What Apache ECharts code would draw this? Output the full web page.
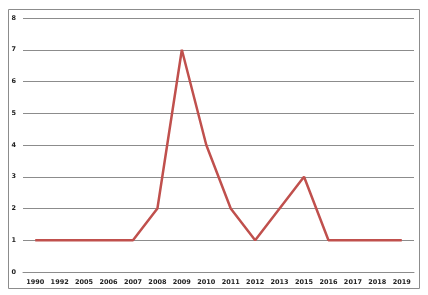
<!DOCTYPE html>
<html><head><meta charset="utf-8">
<script src="https://cdn.jsdelivr.net/npm/echarts@6/dist/echarts.min.js"></script>
<style>html,body{margin:0;padding:0;background:#fff;}#c{width:428px;height:295px;}</style>
</head><body><div id="c"></div>
<script>
const categories = ['1990','1992','2005','2006','2007','2008','2009','2010','2011','2012','2013','2015','2016','2017','2018','2019'];
const values = [1,1,1,1,1,2,7,4,2,1,2,3,1,1,1,1];
const yTicks = [0,1,2,3,4,5,6,7,8];

const chart = echarts.init(document.getElementById('c'));
chart.setOption({
  animation: false,
  backgroundColor: '#fff',
  graphic: [{
    type: 'rect', shape: {x: 8.5, y: 9.5, width: 411, height: 279},
    style: {fill: 'none', stroke: '#8c8c8c', lineWidth: 1}, silent: true
  }],
  grid: {left: 23, right: 14, top: 18, bottom: 23},
  xAxis: {
    type: 'category', data: categories, boundaryGap: true,
    axisLine: {show: true, lineStyle: {color: '#8c8c8c', width: 1}},
    axisTick: {show: false},
    axisLabel: {fontSize: 6.5, fontWeight: 'bold', color: '#222', margin: 7, interval: 0, fontFamily: 'DejaVu Sans'}
  },
  yAxis: {
    type: 'value', min: yTicks[0], max: yTicks[yTicks.length-1], interval: 1,
    axisLine: {show: false}, axisTick: {show: false},
    splitLine: {lineStyle: {color: '#8c8c8c', width: 1}},
    axisLabel: {fontSize: 6.5, fontWeight: 'bold', color: '#222', margin: 7, fontFamily: 'DejaVu Sans'}
  },
  series: [{
    type: 'line', data: values, symbol: 'none',
    lineStyle: {color: '#c0504d', width: 2.5}
  }]
});
</script></body></html>
